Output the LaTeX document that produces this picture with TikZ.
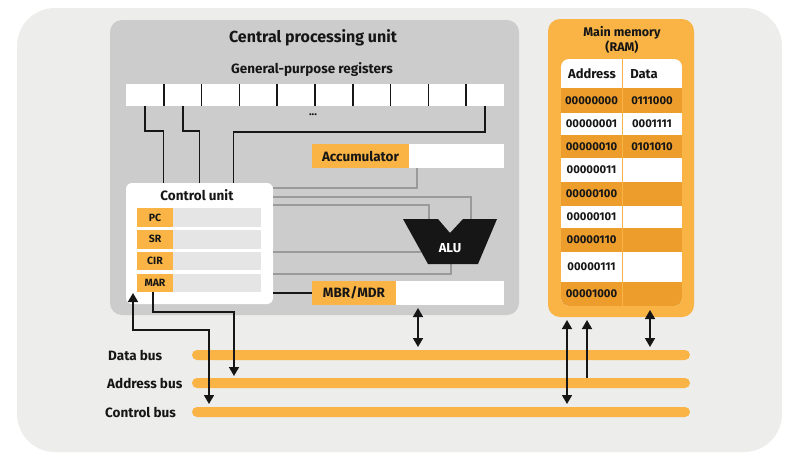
\documentclass[tikz,border=0pt]{standalone}
\usepackage{fontspec}
\setmainfont{Fira Sans}
\usetikzlibrary{arrows.meta,positioning}
\definecolor{bgcol}{HTML}{EDEDEB}
\definecolor{cpucol}{HTML}{CCCCCC}
\definecolor{orng}{HTML}{F9B445}
\definecolor{dorng}{HTML}{EC9D2C}
\definecolor{lgray}{HTML}{E5E5E5}
\definecolor{wiregray}{HTML}{9A9A9A}
\definecolor{ink}{HTML}{161616}
\begin{document}
\begin{tikzpicture}[x=1pt, y=-1pt,
    cell/.style={inner sep=0pt, outer sep=0pt},
    reg/.style={cell, fill=white, minimum width=37.8pt, minimum height=22pt},
    lab/.style={cell, fill=orng, minimum height=24pt, text=ink,
                font=\fontsize{13.5}{15}\selectfont\bfseries},
    val/.style={cell, fill=white, minimum height=24pt},
    culab/.style={cell, fill=orng, minimum width=36pt, minimum height=18.5pt,
                  text=ink, font=\fontsize{10.5}{12}\selectfont\bfseries},
    cubar/.style={cell, fill=lgray, minimum width=88pt, minimum height=18.5pt},
    bus/.style={cell, fill=orng, rounded corners=5pt, minimum width=498pt, minimum height=10pt},
    buslab/.style={anchor=west, inner sep=0pt, text=ink, font=\fontsize{13.5}{15}\selectfont\bfseries},
    memtxt/.style={inner sep=0pt, text=ink, font=\fontsize{11.3}{13}\selectfont\bfseries},
    heading/.style={inner sep=0pt, text=ink, font=\fontsize{13.5}{15}\selectfont\bfseries},
    wire/.style={line width=1.6pt, draw=ink},
    gwire/.style={line width=1.3pt, draw=wiregray},
    arr/.style={wire, -{Triangle[length=9pt,width=10pt]}, shorten >=2pt},
    dblarr/.style={wire, {Triangle[length=9pt,width=10pt]}-{Triangle[length=9pt,width=10pt]},
                   shorten <=3pt, shorten >=3pt}
]
\useasboundingbox (0,0) rectangle (800,467);
\fill[bgcol, rounded corners=38pt] (17,8) rectangle (782,452);

\node[cell, fill=cpucol, rounded corners=12pt, minimum width=409pt, minimum height=295pt] (cpu) at (314.5,167.5) {};
\node[heading, font=\fontsize{16}{18}\selectfont\bfseries] (cputitle) at (313,38) {Central processing unit};
\node[heading] (gptitle) at (312,70) {General-purpose registers};

\foreach \i in {1,...,10}
    \node[reg] (r\i) at ({126+37.8*(\i-0.5)},95) {};
\foreach \i in {1,...,9}
    \draw[wire] (r\i.north east) -- (r\i.south east);
\node[heading, font=\fontsize{11}{11}\selectfont\bfseries] (dots) at (313,115) {...};

\node[cell, fill=white, rounded corners=6pt, minimum width=147pt, minimum height=121pt] (cu) at (199.5,243.5) {};
\node[heading] (cutitle) at (197,195) {Control unit};
\foreach \n/\t/\y in {pc/PC/217.5, sr/SR/239.3, cir/CIR/261.1, mar/MAR/283} {
    \node[culab] (\n) at (155,\y) {\t};
    \node[cubar, right=0pt of \n] (\n val) {};
}

\draw[wire] (r1.south) -- ++(0,25) -| ([xshift=-36pt]cu.north);
\draw[wire] (r2.south) -- ++(0,25) -| (cu.north);
\draw[wire] (r10.south) -- ++(0,26) -| ([xshift=34pt]cu.north);

\node[lab, minimum width=97pt] (acc) at (360.5,156) {Accumulator};
\node[val, minimum width=95pt, right=0pt of acc] (accval) {};
\node[lab, minimum width=84pt] (mbr) at (354,293) {MBR/MDR};
\node[val, minimum width=108pt, right=0pt of mbr] (mbrval) {};

\coordinate (alu-a) at (471,219);
\coordinate (alu-b) at (429,219);
\coordinate (alu-c) at (421,252);
\coordinate (alu-o) at (451,264);
\draw[gwire] ([xshift=8pt]accval.south west) |- (cu.east |- 0,188);
\draw[gwire] (cu.east |- 0,197) -| (alu-a);
\draw[gwire] (cu.east |- 0,205) -| (alu-b);
\draw[gwire] (cu.east |- alu-c) -- (alu-c);
\draw[gwire] (cu.east |- 0,274) -| (alu-o);
\draw[wire] (cu.east |- mbr) -- (mbr.west);
\fill[ink] (403,219) -- (438,219) -- (450,233) -- (463,219) -- (497,219)
    -- (478,264) -- (428,264) -- cycle;
\node[heading, text=white, font=\fontsize{13}{15}\selectfont\bfseries] (alu) at (450,248) {ALU};

\node[cell, fill=orng, rounded corners=12pt, minimum width=146pt, minimum height=298pt] (mem) at (621,168) {};
\node[heading, align=center, font=\fontsize{12.5}{15}\selectfont\bfseries] (memtitle) at (622,39.5) {Main memory\\(RAM)};
\begin{scope}
\clip[rounded corners=8pt] (561,59) rectangle (682,306);
\fill[white] (561,59) rectangle (682,306);
\foreach \i/\t/\b/\c/\adr/\dat in {0/88/113/dorng/00000000/0111000, 1/113/135/white/00000001/0001111,
        2/135/158/dorng/00000010/0101010, 3/158/182/white/00000011/{}, 4/182/206/dorng/00000100/{},
        5/206/228/white/00000101/{}, 6/228/252/dorng/00000110/{}, 7/252/282/white/00000111/{},
        8/282/306/dorng/00001000/{}} {
    \fill[\c] (561,\t) rectangle (682,\b);
    \node[memtxt] (a\i) at (591.5,{(\t+\b)/2}) {\adr};
    \node[memtxt] (d\i) at (652,{(\t+\b)/2}) {\dat};
}
\end{scope}
\draw[orng, line width=1pt] (622,59) -- (622,306);
\node[memtxt, font=\fontsize{13}{15}\selectfont\bfseries] (haddr) at (592,74) {Address};
\node[memtxt, font=\fontsize{13}{15}\selectfont\bfseries] (hdata) at (644,74) {Data};

\node[bus] (databus) at (441,355) {};
\node[bus] (addrbus) at (441,383) {};
\node[bus] (ctrlbus) at (441,412) {};
\node[buslab] (datalab) at (108,355) {Data bus};
\node[buslab] (addrlab) at (107,383) {Address bus};
\node[buslab] (ctrllab) at (105,412) {Control bus};

\coordinate (cuin) at (133,293);
\coordinate (memdata) at (650,310);
\draw[arr] ([xshift=-2pt]mar.south) -- ++(0,20) -| (addrbus.north -| 234,0);
\draw[dblarr, shorten <=0pt] (cuin) |- (209,330) -- (ctrlbus.north -| 209,0);
\draw[dblarr] (mbrval.south -| 418,0) -- (databus.north -| 418,0);
\draw[dblarr] (mem.south -| 567,0) -- (ctrlbus.north -| 567,0);
\draw[arr, shorten >=3pt] (addrbus.north -| 587,0) -- (mem.south -| 587,0);
\draw[dblarr, shorten <=0pt] (memdata) -- (databus.north -| memdata);
\end{tikzpicture}
\end{document}
